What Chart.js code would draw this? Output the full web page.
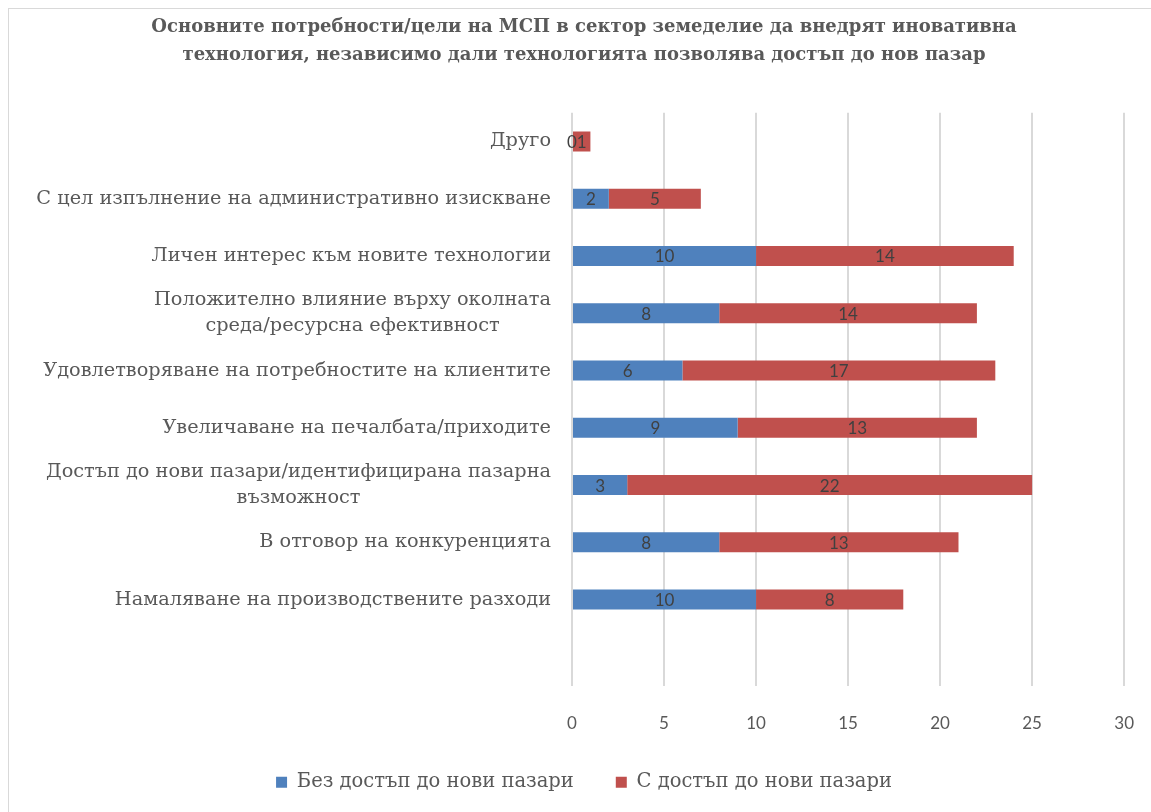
<!DOCTYPE html>
<html>
<head>
<meta charset="utf-8">
<script src="https://cdn.jsdelivr.net/npm/chart.js@4"></script>
<style>
  html, body { margin: 0; padding: 0; background: #fff; }
  #wrap { width: 1151px; height: 812px; }
</style>
</head>
<body>
<div id="wrap"><canvas id="chart-msp" width="1151" height="812"></canvas></div>
<script>
// категории (отгоре надолу), последната е празна
const categories = [
  ["Друго"],
  ["С цел изпълнение на административно изискване"],
  ["Личен интерес към новите технологии"],
  ["Положително влияние върху околната", "среда/ресурсна ефективност"],
  ["Удовлетворяване на потребностите на клиентите"],
  ["Увеличаване на печалбата/приходите"],
  ["Достъп до нови пазари/идентифицирана пазарна", "възможност"],
  ["В отговор на конкуренцията"],
  ["Намаляване на производствените разходи"],
  [""],
];

const withoutAccess = [0, 2, 10, 8, 6, 9, 3, 8, 10, null];
const withAccess = [1, 5, 14, 14, 17, 13, 22, 13, 8, null];

const xTicks = [0, 5, 10, 15, 20, 25, 30];

const titleLines = [
  "Основните потребности/цели на МСП в сектор земеделие да внедрят иновативна",
  "технология, независимо дали технологията позволява достъп до нов пазар",
];

const grey = "#595959";

// рамка около графиката
const frame = {
  id: "frame",
  beforeDraw(chart) {
    const ctx = chart.ctx;
    ctx.save();
    ctx.fillStyle = "#fff";
    ctx.fillRect(0, 0, chart.width, chart.height);
    ctx.strokeStyle = "#d9d9d9";
    ctx.lineWidth = 1;
    ctx.strokeRect(8.5, 8.5, chart.width + 20, chart.height + 20);
    ctx.restore();
  },
};

// етикети на категориите, всеки ред центриран
const catLabels = {
  id: "catLabels",
  afterDraw(chart) {
    const ctx = chart.ctx;
    const y = chart.scales.y;
    ctx.save();
    ctx.font = "19.3px 'DejaVu Serif'";
    ctx.fillStyle = grey;
    ctx.textBaseline = "middle";
    ctx.textAlign = "center";
    const right = y.right - 21;
    const lh = 26;
    categories.forEach((lines, i) => {
      const py = y.getPixelForValue(i);
      const widths = lines.map((l) => ctx.measureText(l).width);
      const maxW = Math.max(...widths);
      const cx = right - maxW / 2;
      const y0 = py - ((lines.length - 1) * lh) / 2;
      lines.forEach((l, k) => ctx.fillText(l, cx, y0 + k * lh));
    });
    ctx.restore();
  },
};

// стойности в средата на всяка лента
const valueLabels = {
  id: "valueLabels",
  afterDatasetsDraw(chart) {
    const ctx = chart.ctx;
    ctx.save();
    ctx.font = "17px Lato";
    ctx.fillStyle = "#404040";
    ctx.textAlign = "center";
    ctx.textBaseline = "middle";
    chart.data.datasets.forEach((ds, di) => {
      chart.getDatasetMeta(di).data.forEach((bar, i) => {
        const v = ds.data[i];
        if (v === null) return;
        const p = bar.getProps(["x", "y", "base"], true);
        ctx.fillText(String(v), (p.x + p.base) / 2, p.y + 1);
      });
    });
    ctx.restore();
  },
};

new Chart(document.getElementById("chart-msp"), {
  type: "bar",
  data: {
    labels: categories.map((c) => c.join(" ")),
    datasets: [
      {
        label: "Без достъп до нови пазари",
        data: withoutAccess,
        backgroundColor: "#4F81BD",
        borderWidth: 0,
        categoryPercentage: 1,
        barPercentage: 0.35,
      },
      {
        label: "С достъп до нови пазари",
        data: withAccess,
        backgroundColor: "#C0504D",
        borderWidth: 0,
        categoryPercentage: 1,
        barPercentage: 0.35,
      },
    ],
  },
  options: {
    indexAxis: "y",
    responsive: false,
    animation: false,
    layout: {
      padding: { left: 17, right: 0, top: 0, bottom: 10 },
    },
    plugins: {
      title: {
        display: true,
        text: titleLines,
        color: grey,
        font: { family: "DejaVu Serif", size: 18, weight: "bold", lineHeight: 1.55 },
        padding: { top: 13, bottom: 44 },
      },
      legend: {
        position: "bottom",
        labels: {
          color: grey,
          font: { family: "DejaVu Serif", size: 19.5 },
          boxWidth: 11,
          boxHeight: 11,
          padding: 42,
        },
      },
      tooltip: { enabled: false },
    },
    scales: {
      x: {
        stacked: true,
        min: 0,
        max: 30,
        afterBuildTicks(scale) {
          scale.ticks = xTicks.map((v) => ({ value: v }));
        },
        afterFit(scale) {
          scale.height = 45;
        },
        grid: {
          color: "#d9d9d9",
          lineWidth: 2,
          drawTicks: true,
          tickLength: 11,
          tickColor: "rgba(0,0,0,0)",
        },
        border: { display: false },
        ticks: {
          color: grey,
          font: { family: "Lato", size: 17 },
          padding: 17,
        },
      },
      y: {
        stacked: true,
        afterFit(scale) {
          scale.width = 555;
        },
        grid: { display: false },
        border: { display: false },
        ticks: { display: false },
      },
    },
  },
  plugins: [frame, catLabels, valueLabels],
});
</script>
</body>
</html>
